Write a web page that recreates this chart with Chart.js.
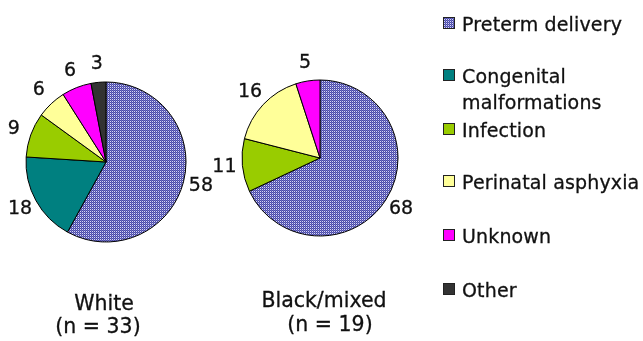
<!DOCTYPE html>
<html lang="en">
<head>
<meta charset="UTF-8">
<title>Causes of death</title>
<script src="https://cdn.jsdelivr.net/npm/chart.js"></script>
<style>
    body { margin: 0; background: #fff; }
    #wrap { position: relative; width: 643px; height: 341px; font-family: "DejaVu Sans", sans-serif; color: #111; overflow: hidden; -webkit-text-stroke: 0.3px #111; }
    canvas { position: absolute; left: 0; top: 0; }
    .cap { position: absolute; text-align: center; font-size: 20.5px; line-height: 24px; width: 200px; white-space: nowrap; }
    .leg { position: absolute; left: 443px; font-size: 19px; line-height: 26px; letter-spacing: 0.15px; }
    .leg span.box { position: absolute; left: 0; top: 6px; width: 10px; height: 10px; border: 1px solid #222; -webkit-text-stroke: 0; }
    .leg span.txt { position: absolute; left: 19px; white-space: nowrap; }
</style>
</head>
<body>
<div id="wrap">
    <canvas id="white" width="643" height="341"></canvas>
    <canvas id="black" width="643" height="341"></canvas>
</div>
<script>
// data
const causes = ['Preterm delivery', 'Congenital\nmalformations', 'Infection', 'Perinatal asphyxia', 'Unknown', 'Other'];
const whiteValues = [58, 18, 9, 6, 6, 3];
const blackValues = [68, 0, 11, 16, 5, 0];
const groups = ['White', 'Black/mixed'];
const groupN = [33, 19];
const colors = ['pattern', '#008080', '#99cc00', '#ffff99', '#ff00ff', '#333333'];

// checkered fill for preterm
let pc = document.createElement('canvas');
pc.width = 2; pc.height = 2;
let pctx = pc.getContext('2d');
pctx.fillStyle = '#d8d8f4'; pctx.fillRect(0, 0, 2, 2);
pctx.fillStyle = '#4848aa'; pctx.fillRect(0, 0, 1, 1); pctx.fillRect(1, 1, 1, 1);
pctx.fillStyle = '#7070c0'; pctx.fillRect(1, 0, 1, 1);
const fills = colors.map(c => c === 'pattern' ? pctx.createPattern(pc, 'repeat') : c);

// numbers outside the slices
const outsideLabels = {
    id: 'outsideLabels',
    afterDatasetsDraw(chart) {
        let ctx = chart.ctx;
        let meta = chart.getDatasetMeta(0);
        ctx.save();
        ctx.font = '19px "DejaVu Sans", sans-serif';
        ctx.fillStyle = '#111';
        ctx.strokeStyle = '#111';
        ctx.lineWidth = 0.3;
        ctx.textAlign = 'center';
        ctx.textBaseline = 'middle';
        meta.data.forEach((arc, i) => {
            let v = chart.data.datasets[0].data[i];
            if (!v) return;
            let mid = (arc.startAngle + arc.endAngle) / 2;
            let r = arc.outerRadius + 18;
            let x = arc.x + Math.cos(mid) * r;
            let y = arc.y + Math.sin(mid) * r;
            ctx.fillText(v, x, y);
            ctx.strokeText(v, x, y);
        });
        ctx.restore();
    }
};

function makePie(id, values, radius, pad) {
    new Chart(document.getElementById(id), {
        type: 'pie',
        data: {
            labels: causes,
            datasets: [{
                data: values,
                backgroundColor: fills,
                borderColor: '#000',
                borderWidth: 1
            }]
        },
        options: {
            responsive: false,
            animation: false,
            radius: radius,
            layout: { padding: pad },
            plugins: { legend: { display: false }, tooltip: { enabled: false } }
        },
        plugins: [outsideLabels]
    });
}

makePie('white', whiteValues, 80, { left: 26, right: 643 - 186, top: 82, bottom: 341 - 242 });
makePie('black', blackValues, 78, { left: 242, right: 643 - 398, top: 80, bottom: 341 - 236 });

// captions
let wrap = document.getElementById('wrap');
function caption(text, cx, cy) {
    let d = document.createElement('div');
    d.className = 'cap';
    d.style.left = (cx - 100) + 'px';
    d.style.top = (cy - 12) + 'px';
    d.textContent = text;
    wrap.appendChild(d);
}
caption(groups[0], 104, 303);
caption('(n = ' + groupN[0] + ')', 98, 326);
caption(groups[1], 324, 300);
caption('(n = ' + groupN[1] + ')', 330, 324);

// legend
const legendTop = [11, 63, 117, 169, 223, 277];
causes.forEach((c, i) => {
    let d = document.createElement('div');
    d.className = 'leg';
    d.style.top = legendTop[i] + 'px';
    let box = document.createElement('span');
    box.className = 'box';
    if (colors[i] === 'pattern') {
        box.style.background = 'url(' + pc.toDataURL() + ')';
    } else {
        box.style.background = colors[i];
    }
    let txt = document.createElement('span');
    txt.className = 'txt';
    txt.innerHTML = c.replace('\n', '<br>');
    d.append(box, txt);
    wrap.appendChild(d);
});
</script>
</body>
</html>
